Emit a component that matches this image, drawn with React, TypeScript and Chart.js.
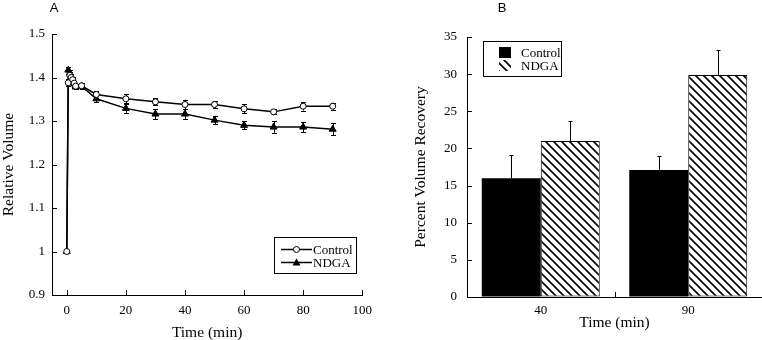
import React, { useEffect, useRef } from "react";
import { Chart, registerables } from "chart.js";

Chart.register(...registerables);

// ---------- Panel A data ----------
const timeMin = [0, 0.5, 1, 1.5, 2, 2.5, 3, 5, 10, 20, 30, 40, 50, 60, 70, 80, 90];
const controlVolume = [1.0, 1.388, 1.405, 1.4, 1.395, 1.387, 1.38, 1.381, 1.361, 1.351, 1.344, 1.338, 1.338, 1.328, 1.321, 1.334, 1.334];
const controlError = [0, 0.008, 0.008, 0.008, 0.007, 0.006, 0.005, 0.007, 0.008, 0.01, 0.008, 0.011, 0.008, 0.01, 0.006, 0.01, 0.008];
const ndgaVolume = [1.0, 1.417, 1.41, 1.4, 1.395, 1.385, 1.378, 1.38, 1.351, 1.329, 1.316, 1.316, 1.302, 1.29, 1.286, 1.286, 1.281];
const ndgaError = [0, 0.008, 0.008, 0.008, 0.007, 0.006, 0.005, 0.007, 0.008, 0.01, 0.011, 0.011, 0.01, 0.009, 0.013, 0.012, 0.014];
const xTicksA = [0, 20, 40, 60, 80, 100];
const seriesNames = ["Control", "NDGA"];

// ---------- Panel B data ----------
const recoveryTimes = ["40", "90"];
const recoveryControl = [16.0, 17.1];
const recoveryControlErr = [3.1, 1.9];
const recoveryNdga = [21.0, 29.9];
const recoveryNdgaErr = [2.7, 3.3];

const SERIF = "'Liberation Serif', 'Times New Roman', serif";
const SANS = "'Liberation Sans', Arial, sans-serif";

function makeHatch(): CanvasPattern | string {
  const c = document.createElement("canvas");
  const s = 8;
  c.width = s;
  c.height = s;
  const g = c.getContext("2d");
  if (!g) return "#fff";
  g.fillStyle = "#fff";
  g.fillRect(0, 0, s, s);
  g.strokeStyle = "#000";
  g.lineWidth = 1.6;
  g.beginPath();
  g.moveTo(-1, -1);
  g.lineTo(s + 1, s + 1);
  g.moveTo(-1, s - 1);
  g.lineTo(1, s + 1);
  g.moveTo(s - 1, -1);
  g.lineTo(s + 1, 1);
  g.stroke();
  const p = g.createPattern(c, "repeat");
  return p || "#fff";
}

// inner tick marks plugin
const innerTicks = {
  id: "innerTicks",
  afterDraw(chart: any, _args: any, opts: any) {
    const ctx = chart.ctx;
    const len = 5;
    ctx.save();
    ctx.strokeStyle = "#000";
    ctx.lineWidth = 1;
    const x = chart.scales.x;
    const y = chart.scales.y;
    ctx.beginPath();
    const xVals: number[] = opts.xValues || x.ticks.map((t: any) => t.value);
    xVals.forEach((v) => {
      const px = Math.round(x.getPixelForValue(v)) + 0.5;
      ctx.moveTo(px, y.bottom);
      ctx.lineTo(px, y.bottom - len);
    });
    y.ticks.forEach((t: any) => {
      const py = Math.round(y.getPixelForValue(t.value)) + 0.5;
      ctx.moveTo(x.left, py);
      ctx.lineTo(x.left + len, py);
    });
    ctx.stroke();
    ctx.restore();
  },
};

function drawLabel(ctx: CanvasRenderingContext2D, text: string, x: number, y: number) {
  ctx.save();
  ctx.fillStyle = "#000";
  ctx.font = `13px ${SANS}`;
  ctx.textAlign = "center";
  ctx.textBaseline = "alphabetic";
  ctx.fillText(text, x, y);
  ctx.restore();
}

function LineChart() {
  const ref = useRef<HTMLCanvasElement>(null);
  useEffect(() => {
    if (!ref.current) return;
    const errs = [controlError, ndgaError];
    const errorBars = {
      id: "errorBarsA",
      beforeDatasetsDraw(chart: any) {
        const ctx = chart.ctx;
        const y = chart.scales.y;
        ctx.save();
        ctx.strokeStyle = "#000";
        ctx.lineWidth = 1;
        chart.data.datasets.forEach((ds: any, di: number) => {
          const meta = chart.getDatasetMeta(di);
          meta.data.forEach((el: any, i: number) => {
            const e = errs[di][i];
            if (!e) return;
            const v = ds.data[i].y;
            const top = y.getPixelForValue(v + e);
            const bot = y.getPixelForValue(v - e);
            const px = Math.round(el.x) + 0.5;
            ctx.beginPath();
            ctx.moveTo(px, top);
            ctx.lineTo(px, bot);
            ctx.moveTo(px - 2.5, Math.round(top) + 0.5);
            ctx.lineTo(px + 2.5, Math.round(top) + 0.5);
            ctx.moveTo(px - 2.5, Math.round(bot) + 0.5);
            ctx.lineTo(px + 2.5, Math.round(bot) + 0.5);
            ctx.stroke();
          });
        });
        ctx.restore();
      },
    };
    const decor = {
      id: "decorA",
      afterDraw(chart: any) {
        const ctx = chart.ctx as CanvasRenderingContext2D;
        drawLabel(ctx, "A", 54, 12);
        // legend
        ctx.save();
        ctx.strokeStyle = "#000";
        ctx.lineWidth = 1;
        ctx.strokeRect(274.5, 237.5, 82, 36);
        const rows = [249.5, 262.5];
        ctx.lineWidth = 1.5;
        rows.forEach((ry, i) => {
          ctx.beginPath();
          ctx.moveTo(281, ry);
          ctx.lineTo(312, ry);
          ctx.stroke();
          ctx.lineWidth = 1;
          if (i === 0) {
            ctx.fillStyle = "#fff";
            ctx.beginPath();
            ctx.arc(296.5, ry, 3, 0, Math.PI * 2);
            ctx.fill();
            ctx.stroke();
          } else {
            ctx.fillStyle = "#000";
            ctx.beginPath();
            ctx.moveTo(296.5, ry - 4);
            ctx.lineTo(300.5, ry + 3);
            ctx.lineTo(292.5, ry + 3);
            ctx.closePath();
            ctx.fill();
          }
          ctx.lineWidth = 1.5;
        });
        ctx.fillStyle = "#000";
        ctx.font = `13px ${SERIF}`;
        ctx.textAlign = "left";
        ctx.textBaseline = "alphabetic";
        ctx.fillText(seriesNames[0], 313, 254);
        ctx.fillText(seriesNames[1], 313, 267);
        ctx.restore();
      },
    };
    const chart = new Chart(ref.current, {
      type: "line",
      data: {
        datasets: [
          {
            label: seriesNames[0],
            data: timeMin.map((t, i) => ({ x: t, y: controlVolume[i] })),
            borderColor: "#000",
            borderWidth: 1.5,
            pointStyle: "circle",
            pointRadius: 3,
            pointBorderWidth: 1,
            pointBackgroundColor: "#fff",
            pointBorderColor: "#000",
            tension: 0,
          },
          {
            label: seriesNames[1],
            data: timeMin.map((t, i) => ({ x: t, y: ndgaVolume[i] })),
            borderColor: "#000",
            borderWidth: 1.5,
            pointStyle: "triangle",
            pointRadius: 4,
            pointBorderWidth: 1,
            pointBackgroundColor: "#000",
            pointBorderColor: "#000",
            tension: 0,
          },
        ],
      },
      options: {
        animation: false,
        responsive: false,
        layout: { padding: { top: 34, right: 17, left: 0, bottom: 0 } },
        plugins: { legend: { display: false }, tooltip: { enabled: false }, innerTicks: {} } as any,
        scales: {
          x: {
            type: "linear",
            min: -5,
            max: 100,
            afterBuildTicks: (s: any) => {
              s.ticks = xTicksA.map((v) => ({ value: v }));
            },
            afterFit: (s: any) => {
              s.height = 45;
            },
            grid: { display: true, drawOnChartArea: false, drawTicks: false },
            border: { display: true, color: "#000", width: 1 },
            ticks: { color: "#000", padding: 8, font: { family: SERIF, size: 13 } },
            title: {
              display: true,
              text: "Time (min)",
              color: "#000",
              padding: { top: 0, bottom: -2 },
              font: { family: SERIF, size: 15.5 },
            },
          },
          y: {
            type: "linear",
            min: 0.9,
            max: 1.5,
            afterFit: (s: any) => {
              s.width = 52;
            },
            grid: { display: true, drawOnChartArea: false, drawTicks: false },
            border: { display: true, color: "#000", width: 1 },
            ticks: {
              stepSize: 0.1,
              color: "#000",
              padding: 7,
              font: { family: SERIF, size: 13 },
              callback: (v: any) => String(Number(Number(v).toFixed(1))),
            },
            title: {
              display: true,
              text: "Relative Volume",
              color: "#000",
              padding: { top: 0, bottom: 0 },
              font: { family: SERIF, size: 15.5 },
            },
          },
        },
      },
      plugins: [errorBars, innerTicks, decor],
    });
    return () => chart.destroy();
  }, []);
  return <canvas ref={ref} width={380} height={340} style={{ width: 380, height: 340, display: "block" }} />;
}

function BarChart() {
  const ref = useRef<HTMLCanvasElement>(null);
  useEffect(() => {
    if (!ref.current) return;
    const hatch = makeHatch();
    const errs = [recoveryControlErr, recoveryNdgaErr];
    const errorBars = {
      id: "errorBarsB",
      afterDatasetsDraw(chart: any) {
        const ctx = chart.ctx;
        const y = chart.scales.y;
        ctx.save();
        ctx.strokeStyle = "#000";
        ctx.lineWidth = 1;
        chart.data.datasets.forEach((ds: any, di: number) => {
          const meta = chart.getDatasetMeta(di);
          meta.data.forEach((el: any, i: number) => {
            const v = ds.data[i];
            const top = Math.round(y.getPixelForValue(v + errs[di][i])) + 0.5;
            const base = y.getPixelForValue(v);
            const px = Math.round(el.x) + 0.5;
            ctx.beginPath();
            ctx.moveTo(px, base);
            ctx.lineTo(px, top);
            ctx.moveTo(px - 2, top);
            ctx.lineTo(px + 2, top);
            ctx.stroke();
          });
        });
        ctx.restore();
      },
    };
    const decor = {
      id: "decorB",
      afterDraw(chart: any) {
        const ctx = chart.ctx as CanvasRenderingContext2D;
        drawLabel(ctx, "B", 122, 12);
        ctx.save();
        ctx.strokeStyle = "#000";
        ctx.lineWidth = 1;
        ctx.strokeRect(103.5, 41.5, 78, 35);
        ctx.fillStyle = "#000";
        ctx.fillRect(119, 47, 12, 11);
        ctx.fillStyle = hatch as any;
        ctx.fillRect(119, 60, 12, 11);
        ctx.fillStyle = "#000";
        ctx.font = `13px ${SERIF}`;
        ctx.textAlign = "left";
        ctx.textBaseline = "alphabetic";
        ctx.fillText(seriesNames[0], 141, 57);
        ctx.fillText(seriesNames[1], 141, 70);
        ctx.restore();
      },
    };
    const chart = new Chart(ref.current, {
      type: "bar",
      data: {
        labels: recoveryTimes,
        datasets: [
          {
            label: seriesNames[0],
            data: recoveryControl,
            backgroundColor: "#000",
            borderColor: "#000",
            borderWidth: 0,
            categoryPercentage: 0.8,
            barPercentage: 1.0,
          },
          {
            label: seriesNames[1],
            data: recoveryNdga,
            backgroundColor: hatch as any,
            borderColor: "#000",
            borderWidth: 1,
            borderSkipped: false,
            categoryPercentage: 0.8,
            barPercentage: 1.0,
          },
        ],
      },
      options: {
        animation: false,
        responsive: false,
        layout: { padding: { top: 37, right: 0, left: 0, bottom: 0 } },
        plugins: { legend: { display: false }, tooltip: { enabled: false }, innerTicks: { xValues: [0.5] } } as any,
        scales: {
          x: {
            type: "category",
            offset: true,
            afterFit: (s: any) => {
              s.height = 43;
            },
            grid: { display: true, drawOnChartArea: false, drawTicks: false, offset: true },
            border: { display: true, color: "#000", width: 1 },
            ticks: { color: "#000", padding: 6, font: { family: SERIF, size: 13 } },
            title: {
              display: true,
              text: "Time (min)",
              color: "#000",
              padding: { top: 0, bottom: 8 },
              font: { family: SERIF, size: 15.5 },
            },
          },
          y: {
            type: "linear",
            min: 0,
            max: 35,
            afterFit: (s: any) => {
              s.width = 87;
            },
            grid: { display: true, drawOnChartArea: false, drawTicks: false },
            border: { display: true, color: "#000", width: 1 },
            ticks: { stepSize: 5, color: "#000", padding: 10, font: { family: SERIF, size: 13 } },
            title: {
              display: true,
              text: "Percent Volume Recovery",
              color: "#000",
              padding: { top: 32, bottom: 0 },
              font: { family: SERIF, size: 15.5 },
            },
          },
        },
      },
      plugins: [innerTicks, errorBars, decor],
    });
    return () => chart.destroy();
  }, []);
  return <canvas ref={ref} width={382} height={340} style={{ width: 382, height: 340, display: "block" }} />;
}

export default function App() {
  return (
    <div style={{ position: "fixed", left: 0, top: 0, width: 762, height: 340, background: "#fff", overflow: "hidden" }}>
      <div style={{ position: "absolute", left: 0, top: 0 }}>
        <LineChart />
      </div>
      <div style={{ position: "absolute", left: 380, top: 0 }}>
        <BarChart />
      </div>
    </div>
  );
}
